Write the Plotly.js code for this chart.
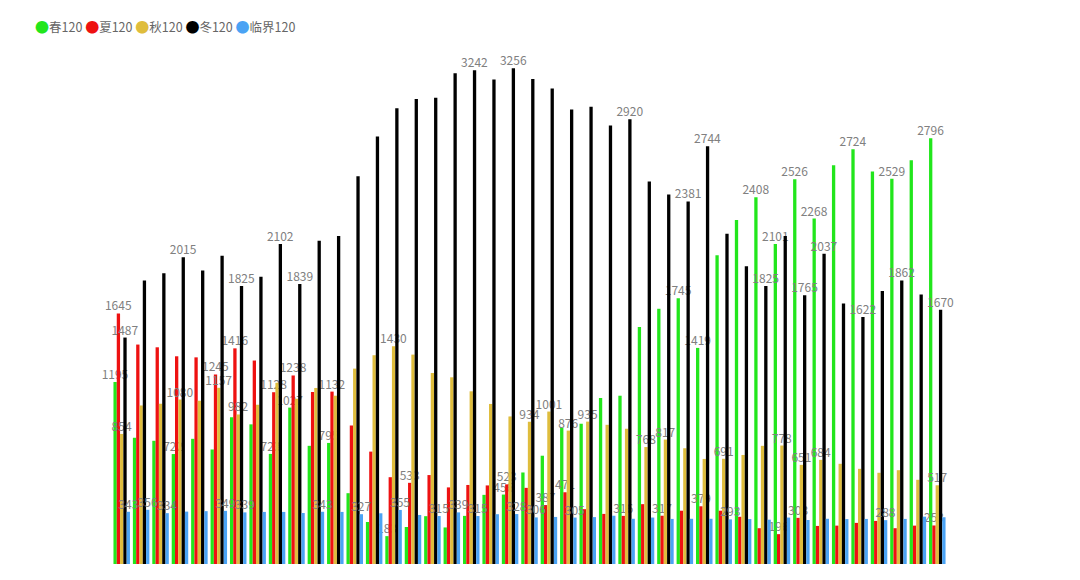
<!DOCTYPE html>
<html>
<head>
<meta charset="utf-8">
<script src="https://cdn.plot.ly/plotly-3.0.1.min.js"></script>
<style>
  html, body { margin: 0; padding: 0; background: #fff; }
  #chart { width: 1080px; height: 580px; }
</style>
</head>
<body>
<div id="chart"></div>
<script>
const groups = ["1", "2", "3", "4", "5", "6", "7", "8", "9", "10", "11", "12", "13", "14", "15", "16", "17", "18", "19", "20", "21", "22",
  "23", "24", "25", "26", "27", "28", "29", "30", "31", "32", "33", "34", "35", "36", "37", "38", "39", "40", "41", "42", "43"];

const spring = [1195, 829, 809, 722, 822, 752, 963, 917, 723, 1027, 776, 795, 465, 276, 183, 243, 314, 240, 316, 454, 456, 601,
  711, 893, 921, 1090, 1105, 1557, 1676, 1745, 1419, 2028, 2259, 2408, 2101, 2526, 2268, 2618, 2724, 2577, 2529, 2651, 2796];
const summer = [1645, 1441, 1423, 1364, 1357, 1245, 1416, 1336, 1128, 1238, 1129, 1132, 909, 738, 570, 533, 584, 503, 519, 516, 523, 500,
  387, 471, 360, 329, 316, 393, 317, 350, 379, 350, 310, 235, 196, 303, 250, 252, 270, 283, 235, 252, 253];
const autumn = [854, 1041, 1052, 1080, 1072, 1157, 982, 1046, 1190, 1085, 1156, 1105, 1283, 1371, 1430, 1375, 1254, 1226, 1134, 1051, 969, 934,
  1001, 876, 935, 914, 888, 768, 817, 760, 690, 691, 716, 776, 778, 651, 684, 658, 625, 599, 616, 553, 517];
const winter = [1487, 1862, 1910, 2015, 1928, 2024, 1825, 1886, 2102, 1839, 2123, 2154, 2546, 2807, 2993, 3053, 3061, 3222, 3242, 3182, 3256, 3184,
  3123, 2985, 3002, 2879, 2920, 2511, 2426, 2381, 2744, 2169, 1956, 1825, 2154, 1765, 2037, 1711, 1622, 1792, 1862, 1770, 1670];
const critical = [343, 356, 334, 344, 347, 349, 339, 342, 342, 335, 343, 342, 327, 333, 355, 322, 315, 339, 315, 327, 328, 306,
  309, 305, 308, 317, 297, 305, 296, 297, 297, 293, 295, 291, 305, 289, 297, 295, 296, 288, 296, 311, 307];

// groups (1-based) whose value label is visible in the original
const springLabels = [1, 4, 9, 10, 12, 15, 21, 30, 31, 34, 35, 36, 37, 39, 41, 43];
const summerLabels = [1, 6, 7, 9, 10, 12, 16, 21, 23, 24, 27, 29, 31, 35, 36, 43];
const autumnLabels = [1, 4, 6, 7, 15, 22, 23, 24, 25, 28, 29, 32, 35, 36, 37, 43];
const winterLabels = [1, 4, 7, 9, 10, 19, 21, 27, 30, 31, 34, 36, 37, 39, 41, 43];
const criticalLabels = [1, 2, 3, 6, 7, 11, 13, 15, 17, 18, 19, 21, 22, 24, 32, 40];

const series = [
  { name: "春120", y: spring, show: springLabels, color: "#22e61c" },
  { name: "夏120", y: summer, show: summerLabels, color: "#ee1111" },
  { name: "秋120", y: autumn, show: autumnLabels, color: "#dfbd3d" },
  { name: "冬120", y: winter, show: winterLabels, color: "#000000" },
  { name: "临界120", y: critical, show: criticalLabels, color: "#4aa3f4" },
];

const font = "Microsoft YaHei, Noto Sans CJK SC, sans-serif";

const traces = series.map(s => ({
  type: "bar", name: s.name, x: groups, y: s.y,
  marker: { color: s.color, line: { width: 0 } },
  text: s.y.map((v, i) => s.show.includes(i + 1) ? String(v) : ""),
  textposition: "outside", cliponaxis: false, constraintext: "none",
  textfont: { family: font, size: 12, color: "#808080" },
  hoverinfo: "x+y+name", showlegend: false
}));

const legendText = series.map(s => `<span style="color:${s.color};font-size:14px">●</span>${s.name}`).join(" ");

const layout = {
  width: 1080, height: 580,
  margin: { l: 112, r: 133, t: 31, b: 16 },
  paper_bgcolor: "#fff", plot_bgcolor: "#fff",
  font: { family: font, color: "#666", size: 12 },
  barmode: "group", bargap: 0.15, bargroupgap: 0,
  showlegend: false,
  xaxis: { type: "category", showticklabels: false, showgrid: false, zeroline: false, showline: false, ticks: "" },
  yaxis: { range: [0, 3500], showticklabels: false, showgrid: false, zeroline: false, showline: false, ticks: "" },
  annotations: [{
    xref: "paper", yref: "paper", x: -(112 - 33) / 835, y: 1 + (31 - 26) / 533,
    xanchor: "left", yanchor: "middle", showarrow: false, align: "left",
    text: legendText, font: { family: font, size: 12.5, color: "#666" }
  }]
};

Plotly.newPlot("chart", traces, layout, { displayModeBar: false, responsive: false });
</script>
</body>
</html>
